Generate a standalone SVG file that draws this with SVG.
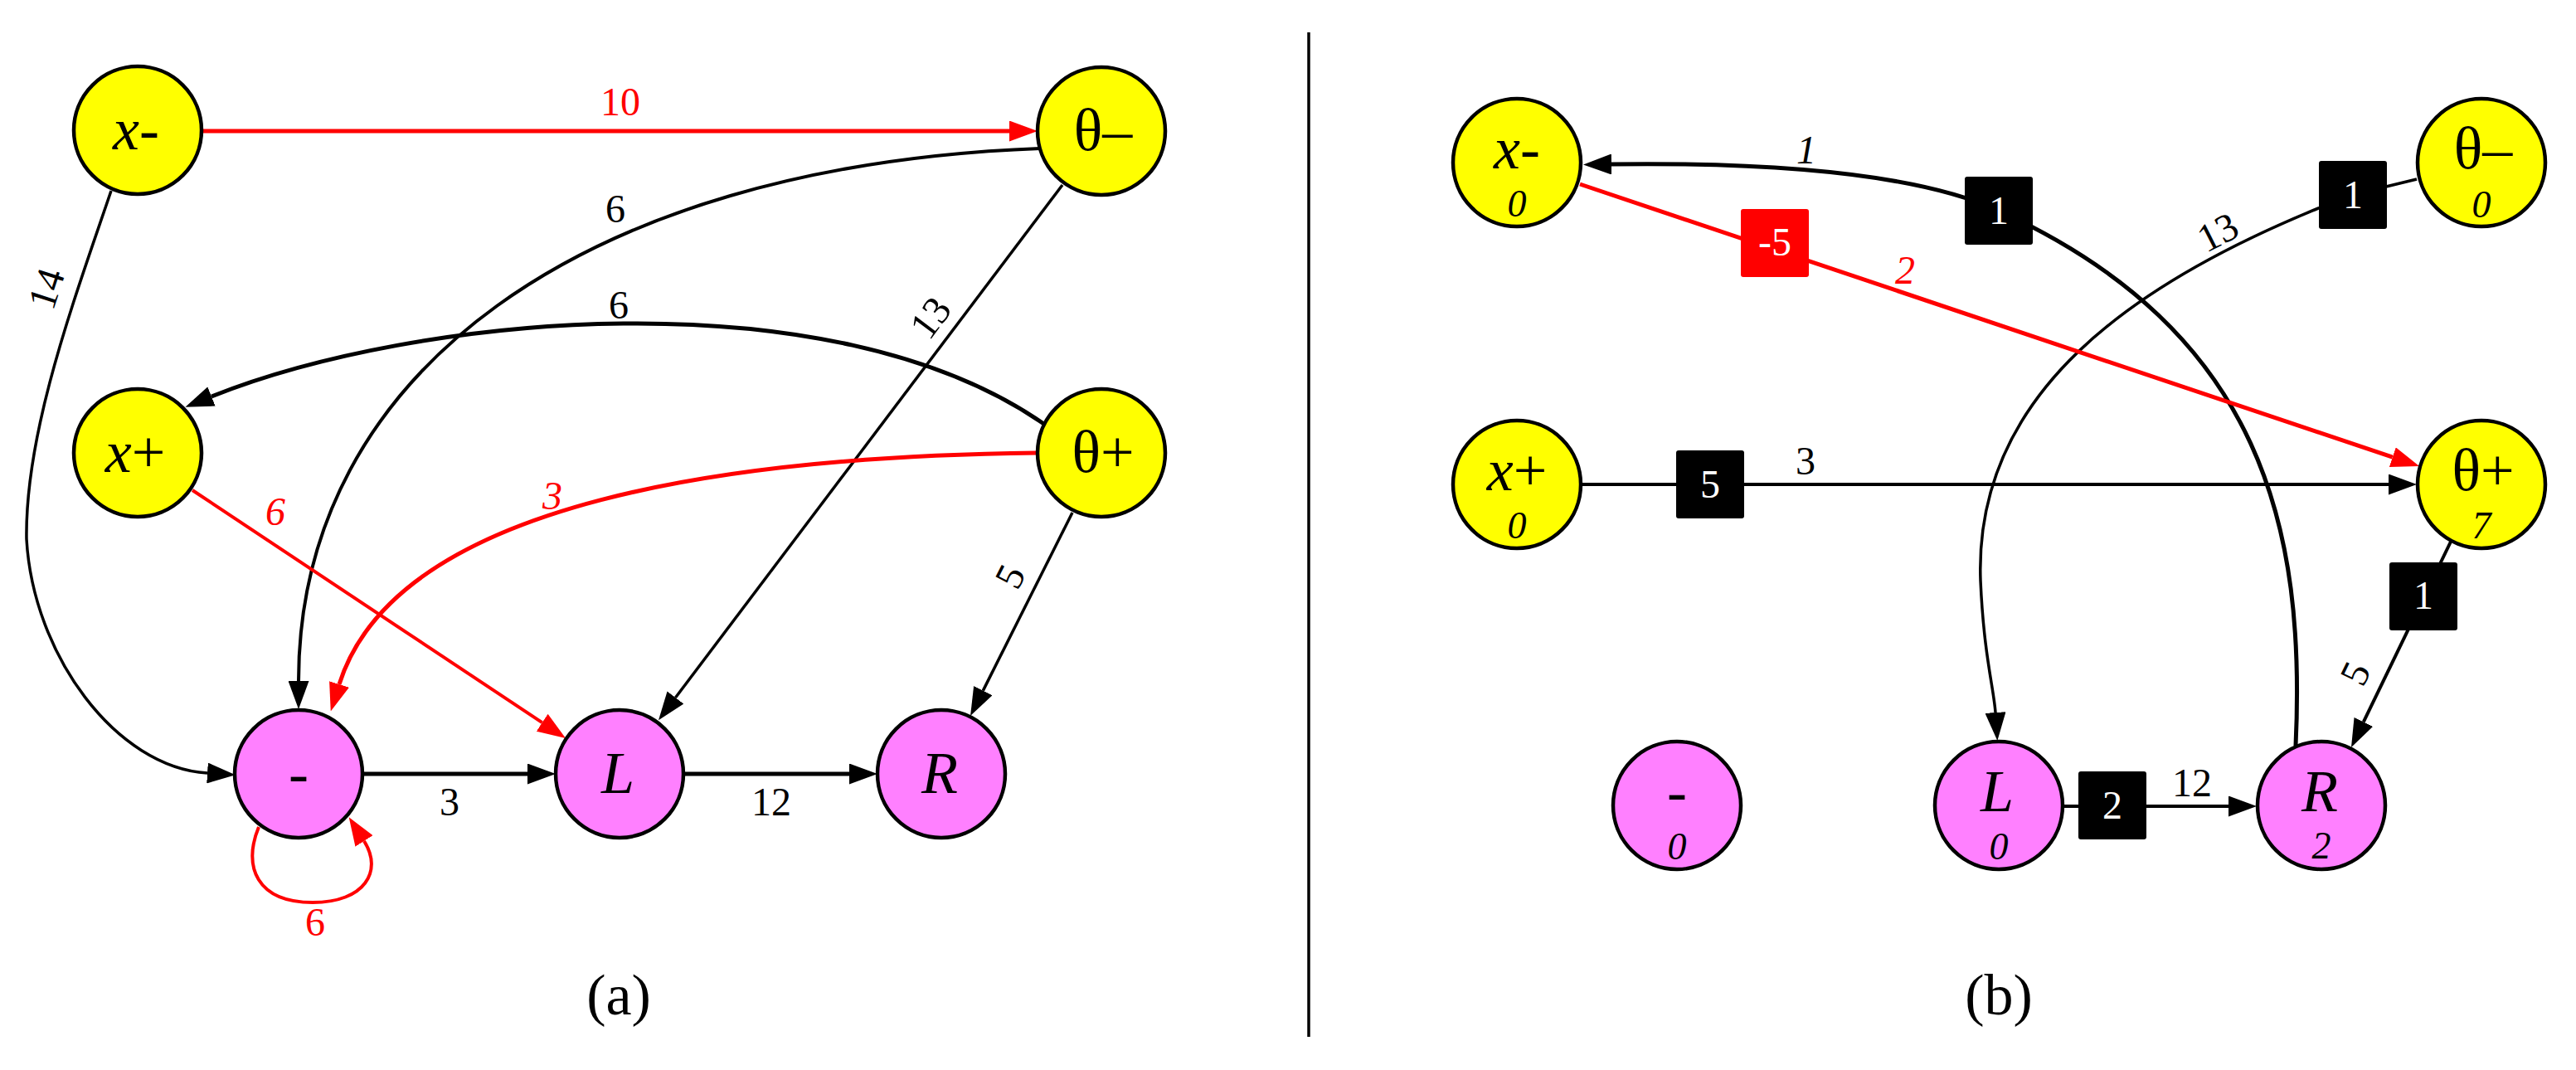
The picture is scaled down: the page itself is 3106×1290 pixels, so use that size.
<svg xmlns="http://www.w3.org/2000/svg" width="3106" height="1290" viewBox="0 0 3106 1290">
<defs>
<marker id="ab" markerUnits="userSpaceOnUse" markerWidth="34" markerHeight="25" viewBox="0 0 34 25" refX="0" refY="12.5" orient="auto"><path d="M0,0 L34,12.5 L0,25 Z" fill="#000"/></marker>
<marker id="ar" markerUnits="userSpaceOnUse" markerWidth="34" markerHeight="25" viewBox="0 0 34 25" refX="0" refY="12.5" orient="auto"><path d="M0,0 L34,12.5 L0,25 Z" fill="#f00"/></marker>
</defs>
<style>
.e{fill:none;stroke:#000;stroke-width:4}
.t{stroke-width:3.5}
.k{stroke-width:5}
.r{stroke:#f00}
.ma{marker-end:url(#ab)}
.mr{marker-end:url(#ar)}
.n{stroke:#000;stroke-width:4.5}
.y{fill:#ff0}
.p{fill:#ff80ff}
text{font-family:"Liberation Serif","DejaVu Serif","Times New Roman",serif}
.nl{font-size:72px;text-anchor:middle}
.sl{font-size:46px;text-anchor:middle;font-style:italic}
.el{font-size:48px;text-anchor:middle}
.rl{fill:#f00}
.bl{font-size:48px;text-anchor:middle;fill:#fff}
.i{font-style:italic}
.bx{fill:#000}
.bxr{fill:#f00}
.cap{font-size:70px;text-anchor:middle}
</style>
<rect width="3106" height="1290" fill="#fff"/>
<line x1="1578" y1="39" x2="1578" y2="1250" stroke="#000" stroke-width="3.5"/>

<g id="connectors">
<!-- (a) -->
<path class="e r k mr" d="M244,158 L1217,158"/>
<path class="e t ma" d="M134,230 C 90,360 30,520 32,650 C 40,790 140,925 250,932"/>
<path class="e ma" d="M1254,179 C 700,200 360,450 360,821"/>
<path class="e k ma" d="M1260,512 C 1000,330 500,380 255,478"/>
<path class="e t ma" d="M1281,223 L814.5,841"/>
<path class="e r k mr" d="M1250,546 C 900,550 480,600 409,825"/>
<path class="e r mr" d="M232,591 L653.7,871.2"/>
<path class="e k ma" d="M437,933 L636,933"/>
<path class="e k ma" d="M825,933 L1024,933"/>
<path class="e t ma" d="M1293,618 L1185.3,832.6"/>
<path class="e r mr" d="M312,997 C 292,1045 310,1088 377,1088 C 440,1088 462,1050 439,1014"/>
<text class="el rl" x="748" y="139">10</text>
<text class="el" transform="translate(56,348) rotate(-72)" y="16">14</text>
<text class="el" x="742" y="268">6</text>
<text class="el" x="746" y="384">6</text>
<text class="el" transform="translate(1122,383) rotate(-53)" y="16">13</text>
<text class="el rl i" x="332" y="633">6</text>
<text class="el rl i" x="666" y="614">3</text>
<text class="el" x="542" y="983">3</text>
<text class="el" x="930" y="983">12</text>
<text class="el" transform="translate(1218,695) rotate(-63)" y="16">5</text>
<text class="el rl" x="380" y="1128">6</text>
<!-- (b) -->
<path class="e k ma" d="M2768,899 C 2780,640 2730,400 2410,254 C 2300,204 2100,196 1943,198"/>
<path class="e t ma" d="M2914,216 L2836,235 C 2560,340 2380,480 2388,700 C 2392,790 2404,830 2406,859"/>
<path class="e r k mr" d="M1905,222 L2884.8,551.2"/>
<path class="e ma" d="M1906,584 L2880,584"/>
<path class="e ma" d="M2955,653 L2849.8,870.4"/>
<path class="e ma" d="M2488,972 L2687,972"/>
<rect class="bxr" x="2099" y="252" width="82" height="82" rx="3"/>
<text class="bl" x="2140" y="308">-5</text>
<rect class="bx" x="2369" y="213" width="82" height="82" rx="3"/>
<text class="bl" x="2410" y="270">1</text>
<rect class="bx" x="2796" y="194" width="82" height="82" rx="3"/>
<text class="bl" x="2837" y="251">1</text>
<rect class="bx" x="2021" y="543" width="82" height="82" rx="3"/>
<text class="bl" x="2062" y="600">5</text>
<rect class="bx" x="2881" y="678" width="82" height="82" rx="3"/>
<text class="bl" x="2922" y="734">1</text>
<rect class="bx" x="2506" y="930" width="82" height="82" rx="3"/>
<text class="bl" x="2547" y="987">2</text>
<text class="el i" x="2178" y="197">1</text>
<text class="el" transform="translate(2674,280) rotate(-27)" y="16">13</text>
<text class="el rl i" x="2297" y="342">2</text>
<text class="el" x="2177" y="572">3</text>
<text class="el" transform="translate(2840,812) rotate(-64)" y="16">5</text>
<text class="el" x="2643" y="960">12</text>
</g>

<!-- (a) nodes -->
<g id="a-xminus"><circle class="n y" cx="166" cy="157" r="77"/><text class="nl" x="164" y="180"><tspan class="i">x</tspan>-</text></g>
<g id="a-thetaminus"><circle class="n y" cx="1328" cy="158" r="77"/><text class="nl" x="1330" y="181">θ–</text></g>
<g id="a-xplus"><circle class="n y" cx="166" cy="546" r="77"/><text class="nl" x="163" y="569"><tspan class="i">x</tspan>+</text></g>
<g id="a-thetaplus"><circle class="n y" cx="1328" cy="546" r="77"/><text class="nl" x="1330" y="569">θ+</text></g>
<g id="a-dash"><circle class="n p" cx="360" cy="933" r="77"/><text class="nl" x="360" y="956">-</text></g>
<g id="a-L"><circle class="n p" cx="747" cy="933" r="77"/><text class="nl i" x="745" y="956">L</text></g>
<g id="a-R"><circle class="n p" cx="1135" cy="933" r="77"/><text class="nl i" x="1133" y="956">R</text></g>
<text class="cap" x="746" y="1223">(a)</text>

<!-- (b) nodes -->
<g id="b-xminus"><circle class="n y" cx="1829" cy="196" r="77"/><text class="nl" x="1829" y="203"><tspan class="i">x</tspan>-</text><text class="sl" x="1829" y="261">0</text></g>
<g id="b-thetaminus"><circle class="n y" cx="2992" cy="196" r="77"/><text class="nl" x="2994" y="203">θ–</text><text class="sl" x="2992" y="262">0</text></g>
<g id="b-xplus"><circle class="n y" cx="1829" cy="584" r="77"/><text class="nl" x="1829" y="591"><tspan class="i">x</tspan>+</text><text class="sl" x="1829" y="649">0</text></g>
<g id="b-thetaplus"><circle class="n y" cx="2992" cy="584" r="77"/><text class="nl" x="2994" y="591">θ+</text><text class="sl" x="2992" y="649">7</text></g>
<g id="b-dash"><circle class="n p" cx="2022" cy="971" r="77"/><text class="nl" x="2022" y="978">-</text><text class="sl" x="2022" y="1036">0</text></g>
<g id="b-L"><circle class="n p" cx="2410" cy="971" r="77"/><text class="nl i" x="2408" y="978">L</text><text class="sl" x="2410" y="1036">0</text></g>
<g id="b-R"><circle class="n p" cx="2799" cy="971" r="77"/><text class="nl i" x="2797" y="978">R</text><text class="sl" x="2799" y="1035" font-style="normal">2</text></g>
<text class="cap" x="2410" y="1223">(b)</text>
</svg>
